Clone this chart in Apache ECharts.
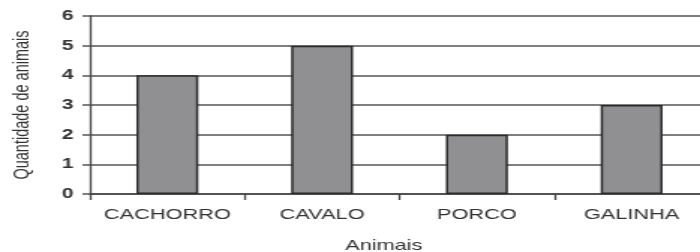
<!DOCTYPE html>
<html>
<head>
<meta charset="utf-8">
<script src="https://cdn.jsdelivr.net/npm/echarts@6/dist/echarts.min.js"></script>
<style>
  html, body { margin: 0; padding: 0; background: #fff; overflow: hidden; }
  /* the original picture is stretched sideways, so the chart is drawn narrow and widened */
  #myChart { width: 467px; height: 252px; transform: scaleX(1.499); transform-origin: 0 0; }
</style>
</head>
<body>
<div id="myChart"></div>
<script>
var categories = ['CACHORRO', 'CAVALO', 'PORCO', 'GALINHA'];
var quantidade = [4, 5, 2, 3];
var yTicks = [0, 1, 2, 3, 4, 5, 6];

var myChart = echarts.init(document.getElementById('myChart'));
myChart.setOption({
    animation: false,
    backgroundColor: '#fff',
    grid: {
        left: 60,
        top: 16,
        width: 413,
        height: 178,
        containLabel: false,
        outerBoundsMode: 'none'
    },
    xAxis: {
        type: 'category',
        data: categories,
        name: 'Animais',
        nameLocation: 'middle',
        nameGap: 44,
        nameTextStyle: {
            fontFamily: 'Liberation Sans',
            fontSize: 14.5,
            color: '#333',
            padding: [0, 21, 0, 0]
        },
        axisLine: { show: true, lineStyle: { color: '#444', width: 1.5 } },
        axisTick: { show: true, interval: 0, length: 6, lineStyle: { color: '#444', width: 1.3 } },
        axisLabel: {
            interval: 0,
            hideOverlap: false,
            fontFamily: 'Liberation Sans',
            fontSize: 14.5,
            color: '#333',
            margin: 13
        }
    },
    yAxis: {
        type: 'value',
        min: yTicks[0],
        max: yTicks[yTicks.length - 1],
        interval: 1,
        name: 'Quantidade de animais',
        nameLocation: 'middle',
        nameGap: 38,
        nameTextStyle: {
            fontFamily: 'Liberation Sans',
            fontSize: 14.5,
            color: '#333'
        },
        axisLine: { show: true, lineStyle: { color: '#444', width: 1.3 } },
        axisTick: { show: true, length: 5, lineStyle: { color: '#555', width: 1.5 } },
        axisLabel: {
            fontFamily: 'Liberation Sans',
            fontSize: 14,
            fontWeight: 'bold',
            color: '#333',
            margin: 11
        },
        splitLine: { show: true, lineStyle: { color: '#555', width: 1.5 } }
    },
    series: [
        {
            name: 'Quantidade',
            type: 'bar',
            data: quantidade,
            barWidth: '40%',
            itemStyle: {
                color: '#909093',
                borderColor: '#2a2a2a',
                borderWidth: 1.5
            }
        }
    ]
});
</script>
</body>
</html>
